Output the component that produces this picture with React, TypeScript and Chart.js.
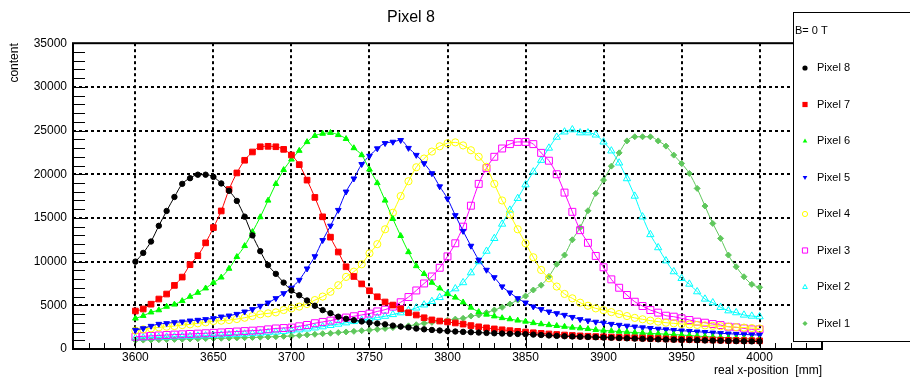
import React, { useEffect, useRef } from 'react';
import { Chart, registerables } from 'chart.js';

Chart.register(...registerables);

// ---------- data ----------
const xPositions = [
  3600, 3605, 3610, 3615, 3620, 3625, 3630, 3635, 3640, 3645,
  3650, 3655, 3660, 3665, 3670, 3675, 3680, 3685, 3690, 3695,
  3700, 3705, 3710, 3715, 3720, 3725, 3730, 3735, 3740, 3745,
  3750, 3755, 3760, 3765, 3770, 3775, 3780, 3785, 3790, 3795,
  3800, 3805, 3810, 3815, 3820, 3825, 3830, 3835, 3840, 3845,
  3850, 3855, 3860, 3865, 3870, 3875, 3880, 3885, 3890, 3895,
  3900, 3905, 3910, 3915, 3920, 3925, 3930, 3935, 3940, 3945,
  3950, 3955, 3960, 3965, 3970, 3975, 3980, 3985, 3990, 3995,
  4000,
];

const pixel8 = [
  10000, 11000, 12300, 14100, 15800, 17400, 18900, 19550, 19950, 19950,
  19700, 18950, 18100, 16950, 15150, 13000, 11200, 9600, 8600, 7600,
  6700, 6150, 5550, 4950, 4450, 4100, 3700, 3450, 3300, 3150,
  3020, 2920, 2820, 2680, 2570, 2470, 2340, 2250, 2180, 2120,
  2060, 2000, 1960, 1920, 1880, 1840, 1800, 1770, 1740, 1720,
  1700, 1650, 1600, 1550, 1500, 1460, 1430, 1400, 1370, 1340,
  1310, 1280, 1250, 1220, 1190, 1160, 1130, 1100, 1080, 1060,
  1040, 1020, 1000, 980, 960, 940, 920, 900, 880, 870,
  860,
];

const pixel7 = [
  4350, 4580, 5130, 5720, 6290, 7280, 8230, 9650, 10680, 12150,
  13900, 15800, 18250, 20150, 21600, 22550, 23150, 23200, 23150, 22850,
  22200, 21100, 19330, 17350, 15130, 12800, 11100, 9410, 8300, 7450,
  6670, 5980, 5380, 5030, 4600, 4150, 3890, 3580, 3330, 3200,
  3100, 2980, 2850, 2680, 2540, 2420, 2300, 2200, 2100, 2020,
  1940, 1860, 1790, 1720, 1660, 1600, 1550, 1500, 1460, 1420,
  1400, 1370, 1340, 1310, 1280, 1250, 1220, 1190, 1160, 1130,
  1110, 1090, 1070, 1050, 1030, 1010, 990, 975, 960, 950,
  940,
];

const pixel6 = [
  3500, 3800, 4200, 4450, 4850, 5100, 5500, 6000, 6450, 6950,
  7600, 8200, 9200, 10550, 11800, 13400, 15100, 17000, 18900, 20500,
  21700, 22700, 23700, 24400, 24650, 24750, 24500, 24050, 23000, 22200,
  20550, 19000, 17000, 14900, 12950, 11100, 9500, 8600, 7600, 6950,
  6300, 5900, 5350, 4750, 4250, 3950, 3750, 3550, 3420, 3270,
  3150, 2980, 2850, 2750, 2650, 2560, 2460, 2380, 2300, 2200,
  2120, 2060, 2000, 1940, 1880, 1830, 1780, 1740, 1700, 1650,
  1600, 1540, 1480, 1420, 1370, 1320, 1270, 1220, 1180, 1140,
  1100,
];

const pixel5 = [
  2170, 2360, 2630, 2860, 2940, 3050, 3130, 3240, 3320, 3400,
  3510, 3700, 3810, 4000, 4270, 4540, 4920, 5300, 5800, 6370,
  7000, 7900, 9200, 10600, 12450, 14100, 15900, 18000, 19500, 21150,
  22100, 22950, 23550, 23700, 23900, 23000, 22200, 21250, 20100, 18600,
  17200, 15300, 13500, 11800, 10200, 9050, 8200, 7150, 6450, 5800,
  5300, 4850, 4550, 4270, 4080, 3890, 3650, 3400, 3250, 3100,
  3000, 2860, 2750, 2650, 2550, 2460, 2380, 2300, 2230, 2160,
  2100, 2040, 1980, 1920, 1860, 1800, 1750, 1700, 1660, 1630,
  1600,
];

const pixel4 = [
  2100, 2250, 2360, 2480, 2550, 2630, 2740, 2820, 2940, 3050,
  3200, 3240, 3320, 3430, 3580, 3770, 3970, 4080, 4190, 4460,
  4650, 4850, 5150, 5600, 6000, 6550, 7300, 8250, 8850, 9700,
  10950, 12000, 13700, 15600, 17500, 19200, 20800, 21800, 22600, 23200,
  23550, 23650, 23300, 22750, 22000, 20850, 18900, 17000, 15400, 13700,
  12100, 10500, 9050, 8100, 7150, 6300, 5800, 5300, 4950, 4650,
  4450, 4220, 4000, 3770, 3560, 3400, 3250, 3130, 3010, 2940,
  2860, 2800, 2750, 2700, 2650, 2600, 2550, 2500, 2450, 2400,
  2350,
];

const pixel3 = [
  1400, 1450, 1500, 1550, 1600, 1650, 1680, 1720, 1760, 1800,
  1850, 1900, 1950, 2000, 2050, 2100, 2150, 2250, 2350, 2400,
  2450, 2600, 2750, 2950, 3100, 3250, 3450, 3600, 3750, 3900,
  4050, 4300, 4500, 4850, 5350, 5950, 6700, 7500, 8300, 9300,
  10600, 12100, 14000, 16400, 18900, 20700, 22000, 22950, 23450, 23700,
  23700, 23450, 22450, 21550, 20000, 17900, 15700, 13600, 12150, 10650,
  9350, 7970, 7010, 6180, 5410, 4920, 4460, 4160, 3810, 3700,
  3510, 3320, 3130, 3010, 2860, 2740, 2550, 2480, 2360, 2250,
  2250,
];

const pixel2 = [
  1250, 1280, 1310, 1340, 1370, 1400, 1430, 1460, 1490, 1520,
  1560, 1600, 1640, 1680, 1720, 1770, 1820, 1880, 1940, 2020,
  2100, 2200, 2300, 2420, 2550, 2700, 2850, 3000, 3150, 3300,
  3450, 3600, 3750, 3950, 4150, 4400, 4700, 5050, 5450, 5900,
  6350, 6900, 7600, 8730, 10000, 11200, 12660, 14300, 15900, 17240,
  18800, 20280, 21600, 23000, 24250, 24850, 25100, 24750, 24750, 24500,
  23700, 22680, 21300, 19500, 17500, 15130, 13100, 11600, 10100, 8850,
  8080, 7430, 6560, 5720, 5300, 4770, 4380, 4160, 3890, 3770,
  3700,
];

const pixel1 = [
  1000, 1020, 1040, 1060, 1080, 1100, 1120, 1150, 1170, 1190,
  1210, 1230, 1250, 1270, 1300, 1320, 1350, 1380, 1410, 1450,
  1490, 1550, 1620, 1680, 1750, 1800, 1880, 1950, 2020, 2100,
  2170, 2250, 2350, 2450, 2550, 2650, 2780, 2940, 3050, 3200,
  3300, 3420, 3510, 3770, 3890, 4160, 4460, 4770, 5150, 5600,
  6060, 6750, 7300, 8300, 9700, 10750, 12500, 13900, 15820, 17810,
  19330, 20930, 22450, 23820, 24290, 24290, 24290, 23820, 23220, 22190,
  21240, 20090, 18380, 16360, 14370, 12660, 10750, 9410, 8270, 7400,
  7060,
];

const seriesLabels = ['Pixel 8', 'Pixel 7', 'Pixel 6', 'Pixel 5', 'Pixel 4', 'Pixel 3', 'Pixel 2', 'Pixel 1'];
const seriesValues = [pixel8, pixel7, pixel6, pixel5, pixel4, pixel3, pixel2, pixel1];

const xTickValues = [3600, 3650, 3700, 3750, 3800, 3850, 3900, 3950, 4000];
const yTickValues = [0, 5000, 10000, 15000, 20000, 25000, 30000, 35000];

const chartTitle = 'Pixel 8';
const xTitle = 'real x-position  [mm]';
const yTitle = 'content';
const legendHeader = 'B= 0 T';

// ---------- styles ----------
const FONT = '"Liberation Sans", Arial, Helvetica, sans-serif';

type MarkerStyle = {
  color: string;
  shape: 'circle' | 'rect' | 'triangle' | 'rectRot';
  filled: boolean;
  radius: number;
  rotation: number;
};

const markerStyles: MarkerStyle[] = [
  { color: '#000000', shape: 'circle', filled: true, radius: 2.7, rotation: 0 },
  { color: '#ff0000', shape: 'rect', filled: true, radius: 4.0, rotation: 0 },
  { color: '#00ff00', shape: 'triangle', filled: true, radius: 3.3, rotation: 0 },
  { color: '#0000ff', shape: 'triangle', filled: true, radius: 3.3, rotation: 180 },
  { color: '#ffff00', shape: 'circle', filled: false, radius: 3.6, rotation: 0 },
  { color: '#ff00ff', shape: 'rect', filled: false, radius: 4.9, rotation: 0 },
  { color: '#00ffff', shape: 'triangle', filled: false, radius: 4.2, rotation: 0 },
  { color: '#5fc75c', shape: 'rectRot', filled: true, radius: 3.0, rotation: 0 },
];

function drawMarker(ctx: CanvasRenderingContext2D, st: MarkerStyle, x: number, y: number, r: number) {
  ctx.save();
  ctx.beginPath();
  if (st.shape === 'circle') {
    ctx.arc(x, y, r, 0, Math.PI * 2);
  } else if (st.shape === 'rect') {
    ctx.rect(x - r, y - r, 2 * r, 2 * r);
  } else if (st.shape === 'rectRot') {
    ctx.moveTo(x, y - r);
    ctx.lineTo(x + r, y);
    ctx.lineTo(x, y + r);
    ctx.lineTo(x - r, y);
    ctx.closePath();
  } else {
    const dir = st.rotation === 180 ? -1 : 1;
    ctx.moveTo(x, y - dir * r);
    ctx.lineTo(x + r * 0.9, y + dir * r * 0.6);
    ctx.lineTo(x - r * 0.9, y + dir * r * 0.6);
    ctx.closePath();
  }
  if (st.filled) {
    ctx.fillStyle = st.color;
    ctx.fill();
  } else {
    ctx.strokeStyle = st.color;
    ctx.lineWidth = 1;
    ctx.stroke();
  }
  ctx.restore();
}

const rootFramePlugin = {
  id: 'rootFrame',
  beforeDatasetsDraw(chart: any) {
    const { ctx, chartArea: a, scales } = chart;
    const xs = scales.x;
    const ys = scales.y;
    ctx.save();
    ctx.strokeStyle = '#000';
    ctx.lineWidth = 2;
    ctx.setLineDash([3, 3]);
    for (const v of xTickValues) {
      const px = Math.round(xs.getPixelForValue(v));
      ctx.beginPath();
      ctx.moveTo(px, a.top);
      ctx.lineTo(px, a.bottom);
      ctx.stroke();
    }
    for (const v of yTickValues) {
      if (v <= ys.min || v >= ys.max) continue;
      const py = Math.round(ys.getPixelForValue(v));
      ctx.beginPath();
      ctx.moveTo(a.left, py);
      ctx.lineTo(a.right, py);
      ctx.stroke();
    }
    ctx.restore();
  },
  afterDatasetsDraw(chart: any) {
    const { ctx, chartArea: a, scales } = chart;
    const xs = scales.x;
    const ys = scales.y;
    ctx.save();
    ctx.strokeStyle = '#000';
    ctx.lineWidth = 1;
    for (let v = ys.min; v <= ys.max; v += 1000) {
      const py = Math.round(ys.getPixelForValue(v)) + 0.5;
      ctx.beginPath();
      ctx.moveTo(a.left, py);
      ctx.lineTo(a.left + 12, py);
      ctx.stroke();
    }
    for (let v = xs.min; v <= xs.max; v += 10) {
      const px = Math.round(xs.getPixelForValue(v)) + 0.5;
      const len = v % 50 === 0 ? 12 : 6;
      ctx.beginPath();
      ctx.moveTo(px, a.bottom);
      ctx.lineTo(px, a.bottom - len);
      ctx.stroke();
    }
    ctx.lineWidth = 2;
    ctx.strokeRect(a.left, a.top, a.right - a.left, a.bottom - a.top);
    ctx.restore();
  },
  afterDraw(chart: any) {
    const { ctx } = chart;
    ctx.save();
    ctx.fillStyle = '#fff';
    ctx.fillRect(793, 12, 130, 330);
    ctx.strokeStyle = '#000';
    ctx.lineWidth = 1;
    ctx.strokeRect(793.5, 12.5, 130, 329);
    ctx.fillStyle = '#000';
    ctx.font = `11px ${FONT}`;
    ctx.textBaseline = 'middle';
    ctx.textAlign = 'left';
    ctx.fillText(legendHeader, 795, 31);
    seriesLabels.forEach((label, i) => {
      const y = 68 + i * 36.5;
      drawMarker(ctx, markerStyles[i], 805, y, 2.6);
      ctx.fillStyle = '#000';
      ctx.fillText(label, 817, y);
    });
    ctx.restore();
  },
};

export default function App() {
  const canvasRef = useRef<HTMLCanvasElement | null>(null);

  useEffect(() => {
    document.body.style.margin = '0';
    const canvas = canvasRef.current;
    if (!canvas) return;

    const datasets = seriesValues.map((vals, i) => {
      const st = markerStyles[i];
      return {
        label: seriesLabels[i],
        data: xPositions.map((x, j) => ({ x, y: vals[j] })),
        borderColor: st.color,
        borderWidth: 1,
        backgroundColor: st.filled ? st.color : 'rgba(0,0,0,0)',
        pointBackgroundColor: st.filled ? st.color : 'rgba(0,0,0,0)',
        pointBorderColor: st.color,
        pointBorderWidth: 1,
        pointStyle: st.shape,
        pointRotation: st.rotation,
        pointRadius: st.radius,
        pointHoverRadius: st.radius,
        cubicInterpolationMode: 'monotone' as const,
        fill: false,
      };
    });

    const chart = new Chart(canvas, {
      type: 'line',
      data: { datasets },
      plugins: [rootFramePlugin],
      options: {
        responsive: false,
        animation: false,
        devicePixelRatio: 1,
        layout: { padding: { left: 0, right: 88, top: 0, bottom: 0 } },
        plugins: {
          legend: { display: false },
          tooltip: { enabled: false },
          title: {
            display: true,
            text: chartTitle,
            color: '#000',
            font: { family: FONT, size: 16, weight: 'normal' },
            padding: { top: 8, bottom: 16 },
          },
        },
        scales: {
          x: {
            type: 'linear',
            min: 3560,
            max: 4040,
            grid: { display: false, drawTicks: false, tickLength: 0 },
            border: { display: false },
            afterBuildTicks: (s: any) => {
              s.ticks = xTickValues.map((v) => ({ value: v }));
            },
            afterFit: (s: any) => {
              s.height = 29;
            },
            ticks: {
              autoSkip: false,
              maxRotation: 0,
              minRotation: 0,
              color: '#000',
              padding: 1,
              font: { family: FONT, size: 12 },
              callback: (v: any) => String(v),
            },
            title: {
              display: true,
              text: xTitle,
              align: 'end',
              color: '#000',
              font: { family: FONT, size: 12 },
              padding: { top: 0, bottom: 0 },
            },
          },
          y: {
            type: 'linear',
            min: 0,
            max: 35000,
            grid: { display: false, drawTicks: false, tickLength: 0 },
            border: { display: false },
            afterBuildTicks: (s: any) => {
              s.ticks = yTickValues.map((v) => ({ value: v }));
            },
            afterFit: (s: any) => {
              s.width = 73;
            },
            ticks: {
              autoSkip: false,
              color: '#000',
              padding: 6,
              font: { family: FONT, size: 12 },
              callback: (v: any) => String(v),
            },
            title: {
              display: true,
              text: yTitle,
              align: 'end',
              color: '#000',
              font: { family: FONT, size: 12 },
              padding: { top: 7, bottom: 0 },
            },
          },
        },
      } as any,
    });

    return () => chart.destroy();
  }, []);

  return (
    <div style={{ position: 'absolute', left: 0, top: 0, width: 910, height: 378, background: '#fff' }}>
      <canvas ref={canvasRef} width={910} height={378} style={{ display: 'block' }} />
    </div>
  );
}
